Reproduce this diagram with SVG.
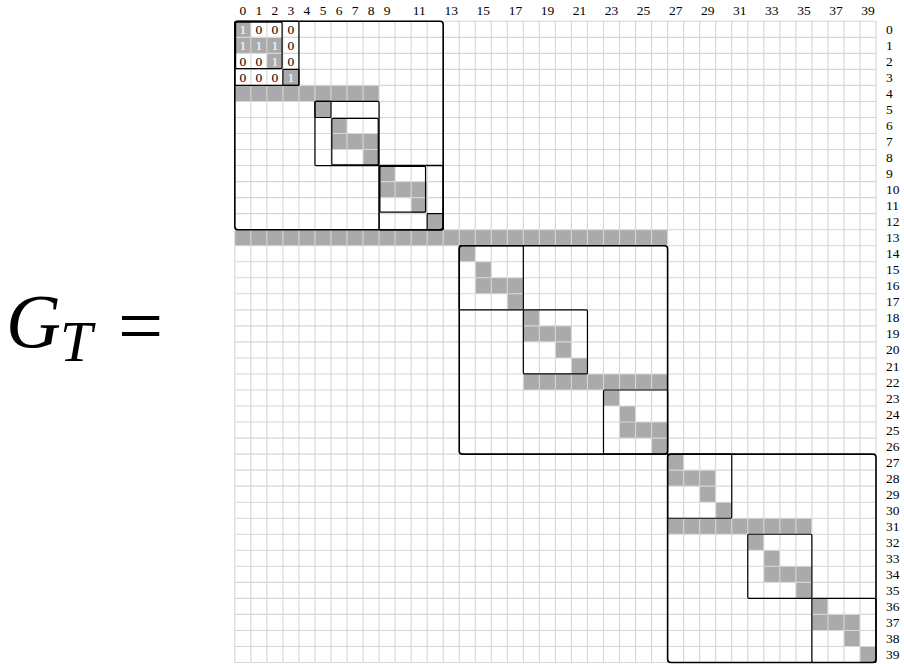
<svg xmlns="http://www.w3.org/2000/svg" width="904" height="664" viewBox="0 0 904 664">
<style>
.s{fill:#aaaaaa}
.grid{fill:none;stroke:#d6d6d6;stroke-width:1.1}
.big{fill:none;stroke:#000;stroke-width:1.6}
.box{fill:none;stroke:#000;stroke-width:1.2}
.lab{font-family:"Liberation Serif","DejaVu Serif",serif;font-size:13.5px;fill:#000}
.num{font-family:"Liberation Serif","DejaVu Serif",serif;font-size:13.5px;text-anchor:middle;fill:#000}
.w{fill:#fff}
.gt{font-family:"Liberation Serif","DejaVu Serif",serif;fill:#000}
</style>
<rect width="904" height="664" fill="#fff"/>
<g id="label-GT" class="gt">
<text x="6" y="347" font-size="76" font-style="italic">G</text>
<text x="60" y="361" font-size="58" font-style="italic">T</text>
<text x="118" y="353" font-size="80">=</text>
</g>
<g id="matrix" transform="translate(234.8 21.3) scale(16.03)">
<g id="shading">
<rect class="s" x="0" y="0" width="1" height="1"/><rect class="s" x="0" y="1" width="3" height="1"/><rect class="s" x="2" y="2" width="1" height="1"/><rect class="s" x="3" y="3" width="1" height="1"/>
<rect class="s" x="0" y="4" width="9" height="1"/>
<rect class="s" x="5" y="5" width="1" height="1"/><rect class="s" x="6" y="6" width="1" height="1"/><rect class="s" x="6" y="7" width="3" height="1"/><rect class="s" x="8" y="8" width="1" height="1"/>
<rect class="s" x="9" y="9" width="1" height="1"/><rect class="s" x="9" y="10" width="3" height="1"/><rect class="s" x="11" y="11" width="1" height="1"/><rect class="s" x="12" y="12" width="1" height="1"/>
<rect class="s" x="0" y="13" width="27" height="1"/>
<rect class="s" x="14" y="14" width="1" height="1"/><rect class="s" x="15" y="15" width="1" height="1"/><rect class="s" x="15" y="16" width="3" height="1"/><rect class="s" x="17" y="17" width="1" height="1"/>
<rect class="s" x="18" y="18" width="1" height="1"/><rect class="s" x="18" y="19" width="3" height="1"/><rect class="s" x="20" y="20" width="1" height="1"/><rect class="s" x="21" y="21" width="1" height="1"/>
<rect class="s" x="18" y="22" width="9" height="1"/>
<rect class="s" x="23" y="23" width="1" height="1"/><rect class="s" x="24" y="24" width="1" height="1"/><rect class="s" x="24" y="25" width="3" height="1"/><rect class="s" x="26" y="26" width="1" height="1"/>
<rect class="s" x="27" y="27" width="1" height="1"/><rect class="s" x="27" y="28" width="3" height="1"/><rect class="s" x="29" y="29" width="1" height="1"/><rect class="s" x="30" y="30" width="1" height="1"/>
<rect class="s" x="27" y="31" width="9" height="1"/>
<rect class="s" x="32" y="32" width="1" height="1"/><rect class="s" x="33" y="33" width="1" height="1"/><rect class="s" x="33" y="34" width="3" height="1"/><rect class="s" x="35" y="35" width="1" height="1"/>
<rect class="s" x="36" y="36" width="1" height="1"/><rect class="s" x="36" y="37" width="3" height="1"/><rect class="s" x="38" y="38" width="1" height="1"/><rect class="s" x="39" y="39" width="1" height="1"/>
</g>
<path class="grid" vector-effect="non-scaling-stroke" d="M0 0H40M0 1H40M0 2H40M0 3H40M0 4H40M0 5H40M0 6H40M0 7H40M0 8H40M0 9H40M0 10H40M0 11H40M0 12H40M0 13H40M0 14H40M0 15H40M0 16H40M0 17H40M0 18H40M0 19H40M0 20H40M0 21H40M0 22H40M0 23H40M0 24H40M0 25H40M0 26H40M0 27H40M0 28H40M0 29H40M0 30H40M0 31H40M0 32H40M0 33H40M0 34H40M0 35H40M0 36H40M0 37H40M0 38H40M0 39H40M0 40H40M0 0V40M1 0V40M2 0V40M3 0V40M4 0V40M5 0V40M6 0V40M7 0V40M8 0V40M9 0V40M10 0V40M11 0V40M12 0V40M13 0V40M14 0V40M15 0V40M16 0V40M17 0V40M18 0V40M19 0V40M20 0V40M21 0V40M22 0V40M23 0V40M24 0V40M25 0V40M26 0V40M27 0V40M28 0V40M29 0V40M30 0V40M31 0V40M32 0V40M33 0V40M34 0V40M35 0V40M36 0V40M37 0V40M38 0V40M39 0V40M40 0V40"/>
<g id="block1">
<rect class="big" vector-effect="non-scaling-stroke" x="0" y="0" width="13" height="13" rx="0.2"/>
<rect class="box" vector-effect="non-scaling-stroke" x="0" y="0" width="4" height="4" rx="0.08"/>
<rect class="box" vector-effect="non-scaling-stroke" x="0.05" y="0.05" width="2.9" height="2.9" rx="0.08"/>
<rect class="box" vector-effect="non-scaling-stroke" x="3" y="3" width="1" height="1" rx="0.05"/>
<rect class="box" vector-effect="non-scaling-stroke" x="5" y="5" width="4" height="4" rx="0.08"/>
<rect class="box" vector-effect="non-scaling-stroke" x="5" y="5" width="1" height="1" rx="0.05"/>
<rect class="box" vector-effect="non-scaling-stroke" x="6.05" y="6.05" width="2.9" height="2.9" rx="0.08"/>
<rect class="big" vector-effect="non-scaling-stroke" x="9" y="9" width="4" height="4" rx="0.08"/>
<rect class="box" vector-effect="non-scaling-stroke" x="9.05" y="9.05" width="2.85" height="2.85" rx="0.08"/>
<rect class="box" vector-effect="non-scaling-stroke" x="12" y="12" width="1" height="1" rx="0.05"/>
</g>
<g id="block2">
<rect class="big" vector-effect="non-scaling-stroke" x="14" y="14" width="13" height="13" rx="0.2"/>
<rect class="box" vector-effect="non-scaling-stroke" x="14" y="14" width="4" height="4" rx="0.08"/>
<rect class="box" vector-effect="non-scaling-stroke" x="18" y="18" width="4" height="4" rx="0.08"/>
<rect class="box" vector-effect="non-scaling-stroke" x="23" y="23" width="4" height="4" rx="0.08"/>
</g>
<g id="block3">
<rect class="big" vector-effect="non-scaling-stroke" x="27" y="27" width="13" height="13" rx="0.2"/>
<rect class="box" vector-effect="non-scaling-stroke" x="27" y="27" width="4" height="4" rx="0.08"/>
<rect class="box" vector-effect="non-scaling-stroke" x="32" y="32" width="4" height="4" rx="0.08"/>
<rect class="box" vector-effect="non-scaling-stroke" x="36" y="36" width="4" height="4" rx="0.08"/>
</g>
</g>
<g id="cell-values">
<text class="num w" x="242.8" y="34">1</text><text class="num" x="258.8" y="34">0</text><text class="num" x="274.9" y="34">0</text><text class="num" x="290.9" y="34">0</text>
<text class="num w" x="242.8" y="50">1</text><text class="num w" x="258.8" y="50">1</text><text class="num w" x="274.9" y="50">1</text><text class="num" x="290.9" y="50">0</text>
<text class="num" x="242.8" y="66">0</text><text class="num" x="258.8" y="66">0</text><text class="num w" x="274.9" y="66">1</text><text class="num" x="290.9" y="66">0</text>
<text class="num" x="242.8" y="82">0</text><text class="num" x="258.8" y="82">0</text><text class="num" x="274.9" y="82">0</text><text class="num w" x="290.9" y="82">1</text>
</g>
<g id="col-labels" class="lab" text-anchor="middle">
<text x="242.8" y="15">0</text><text x="258.8" y="15">1</text><text x="274.9" y="15">2</text><text x="290.9" y="15">3</text><text x="306.9" y="15">4</text><text x="323.0" y="15">5</text><text x="339.0" y="15">6</text><text x="355.0" y="15">7</text><text x="371.1" y="15">8</text><text x="387.1" y="15">9</text>
<text x="419.2" y="15">11</text><text x="451.3" y="15">13</text><text x="483.3" y="15">15</text><text x="515.4" y="15">17</text><text x="547.4" y="15">19</text><text x="579.5" y="15">21</text><text x="611.6" y="15">23</text><text x="643.6" y="15">25</text><text x="675.7" y="15">27</text><text x="707.7" y="15">29</text><text x="739.8" y="15">31</text><text x="771.8" y="15">33</text><text x="803.9" y="15">35</text><text x="836.0" y="15">37</text><text x="868.0" y="15">39</text>
</g>
<g id="row-labels" class="lab">
<text x="886" y="33.8">0</text><text x="886" y="49.8">1</text><text x="886" y="65.9">2</text><text x="886" y="81.9">3</text><text x="886" y="97.9">4</text><text x="886" y="114.0">5</text><text x="886" y="130.0">6</text><text x="886" y="146.0">7</text><text x="886" y="162.1">8</text><text x="886" y="178.1">9</text>
<text x="886" y="194.1">10</text><text x="886" y="210.2">11</text><text x="886" y="226.2">12</text><text x="886" y="242.2">13</text><text x="886" y="258.3">14</text><text x="886" y="274.3">15</text><text x="886" y="290.3">16</text><text x="886" y="306.4">17</text><text x="886" y="322.4">18</text><text x="886" y="338.4">19</text>
<text x="886" y="354.4">20</text><text x="886" y="370.5">21</text><text x="886" y="386.5">22</text><text x="886" y="402.5">23</text><text x="886" y="418.6">24</text><text x="886" y="434.6">25</text><text x="886" y="450.6">26</text><text x="886" y="466.7">27</text><text x="886" y="482.7">28</text><text x="886" y="498.7">29</text>
<text x="886" y="514.8">30</text><text x="886" y="530.8">31</text><text x="886" y="546.8">32</text><text x="886" y="562.9">33</text><text x="886" y="578.9">34</text><text x="886" y="594.9">35</text><text x="886" y="611.0">36</text><text x="886" y="627.0">37</text><text x="886" y="643.0">38</text><text x="886" y="659.1">39</text>
</g>
</svg>
